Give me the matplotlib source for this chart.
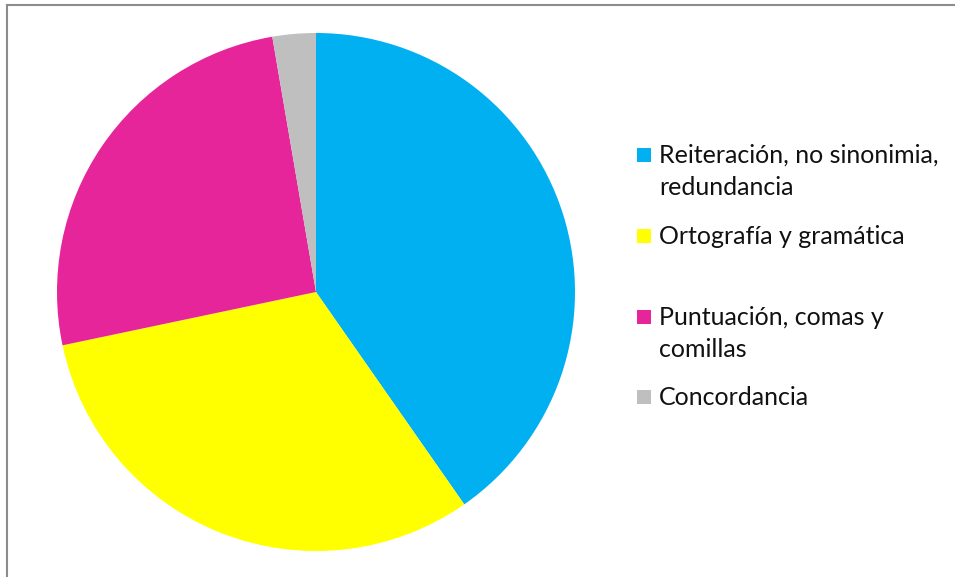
import matplotlib
matplotlib.use("Agg")
import matplotlib.pyplot as plt
from matplotlib.patches import Rectangle

labels = ["Reiteración, no sinonimia,\nredundancia", "Ortografía y gramática",
          "Puntuación, comas y\ncomillas", "Concordancia"]
values = [40.3, 31.4, 25.6, 2.7]
colors = ["#00B0F0", "#FFFF00", "#E6259A", "#BFBFBF"]

W, H = 955, 577
fig = plt.figure(figsize=(W / 100, H / 100), dpi=100)

# outer frame (only left/top visible in the original crop)
fig.add_artist(plt.Line2D([7 / W, 7 / W], [0, 1 - 5 / H], color="#8c8c8c", lw=1.5))
fig.add_artist(plt.Line2D([7 / W, 1], [1 - 5 / H, 1 - 5 / H], color="#8c8c8c", lw=1.5))

cx, cy, r = 316, 292, 259
ax = fig.add_axes([(cx - r) / W, 1 - (cy + r) / H, 2 * r / W, 2 * r / H])
ax.pie(values, colors=colors, startangle=90, counterclock=False, radius=1,
       wedgeprops=dict(linewidth=0))
ax.set_xlim(-1, 1)
ax.set_ylim(-1, 1)
ax.set_aspect("equal")
ax.axis("off")

# legend entries
ys = [155, 236, 317, 397]
for lab, col, y in zip(labels, colors, ys):
    fig.add_artist(Rectangle((637 / W, 1 - (y + 7) / H), 14 / W, 14 / H,
                             transform=fig.transFigure, color=col, lw=0))
    for i, line in enumerate(lab.split("\n")):
        fig.text(659 / W, 1 - (y + 8 + 32 * i) / H, line, fontsize=18, family="Lato",
                 va="baseline", ha="left", color="#111111")

fig.savefig("out.png", dpi=100)
